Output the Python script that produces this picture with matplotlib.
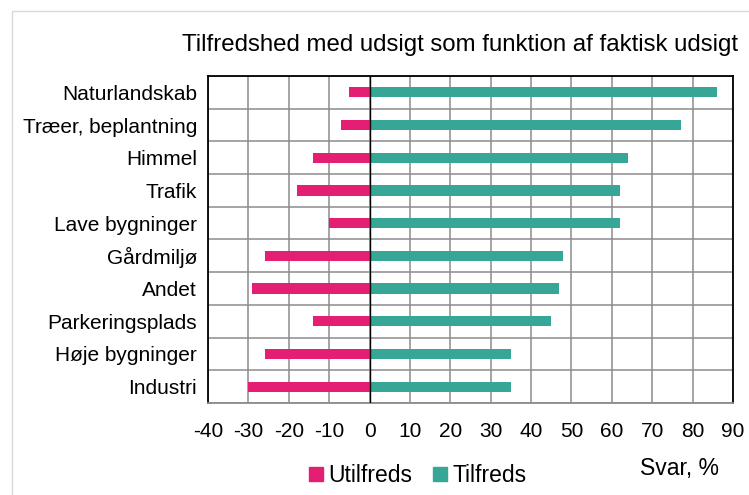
import numpy as np
import matplotlib as mpl
mpl.use('Agg')
import matplotlib.pyplot as plt
from matplotlib.lines import Line2D
from matplotlib.patches import Rectangle

mpl.rcParams['font.family'] = ['Liberation Sans', 'DejaVu Sans']

# data
categories = ["Naturlandskab", "Træer, beplantning", "Himmel", "Trafik",
              "Lave bygninger", "Gårdmiljø", "Andet", "Parkeringsplads",
              "Høje bygninger", "Industri"]
utilfreds = [-5, -7, -14, -18, -10, -26, -29, -14, -26, -30]
tilfreds = [86, 77, 64, 62, 62, 48, 47, 45, 35, 35]
x_ticks = list(range(-40, 91, 10))

RED = "#E41F73"
GREEN = "#36A797"
GRID = "#8c8c8c"

fig = plt.figure(figsize=(7.49, 4.95), dpi=100)
ax = fig.add_axes([208 / 749, 1 - 403 / 495, (733 - 208) / 749, (403 - 76) / 495])

y = np.arange(len(categories))
bar_h = 0.31
ax.barh(y, utilfreds, height=bar_h, color=RED, zorder=3)
ax.barh(y, tilfreds, height=bar_h, color=GREEN, zorder=3)
ax.axvline(0, color="black", lw=1.0, zorder=4)

ax.set_xlim(-40, 90)
ax.set_ylim(len(categories) - 0.5, -0.5)
ax.set_xticks(x_ticks)
ax.set_xticklabels([str(v) for v in x_ticks])
ax.set_yticks(y)
ax.set_yticklabels(categories)
ax.set_yticks(np.arange(len(categories) + 1) - 0.5, minor=True)

ax.tick_params(axis='both', which='both', length=0, labelsize=15)
ax.tick_params(axis='x', pad=14)
ax.tick_params(axis='y', pad=8)
ax.grid(True, axis='x', which='major', color=GRID, lw=1.1, zorder=0)
ax.grid(True, axis='y', which='minor', color=GRID, lw=1.1, zorder=0)
ax.grid(False, axis='y', which='major')

for side in ['left', 'top', 'right']:
    ax.spines[side].set_color('black')
    ax.spines[side].set_linewidth(1.3)
ax.spines['bottom'].set_color(GRID)
ax.spines['bottom'].set_linewidth(1.3)

fig.text(460 / 749, 1 - 45 / 495, "Tilfredshed med udsigt som funktion af faktisk udsigt",
         ha='center', va='center', fontsize=17.3)
fig.text(679.5 / 749, 1 - 469 / 495, "Svar, %", ha='center', va='center', fontsize=16.5)

handles = [Line2D([], [], marker='s', ls='', color=RED, markersize=9.4),
           Line2D([], [], marker='s', ls='', color=GREEN, markersize=9.4)]
fig.legend(handles, ["Utilfreds", "Tilfreds"], loc='center',
           bbox_to_anchor=(417.5 / 749, 1 - 475.5 / 495), ncol=2, frameon=False,
           fontsize=16.5, handletextpad=0.25, columnspacing=0.9, handlelength=0.6,
           borderpad=0, borderaxespad=0)

# light chart-area border
fig.patches.append(Rectangle((12 / 749, -0.1), 1.2, 1 - 11 / 495 + 0.1,
                             transform=fig.transFigure, fill=False,
                             edgecolor="#d9d9d9", lw=1.0))

fig.savefig("out.png", dpi=100)
